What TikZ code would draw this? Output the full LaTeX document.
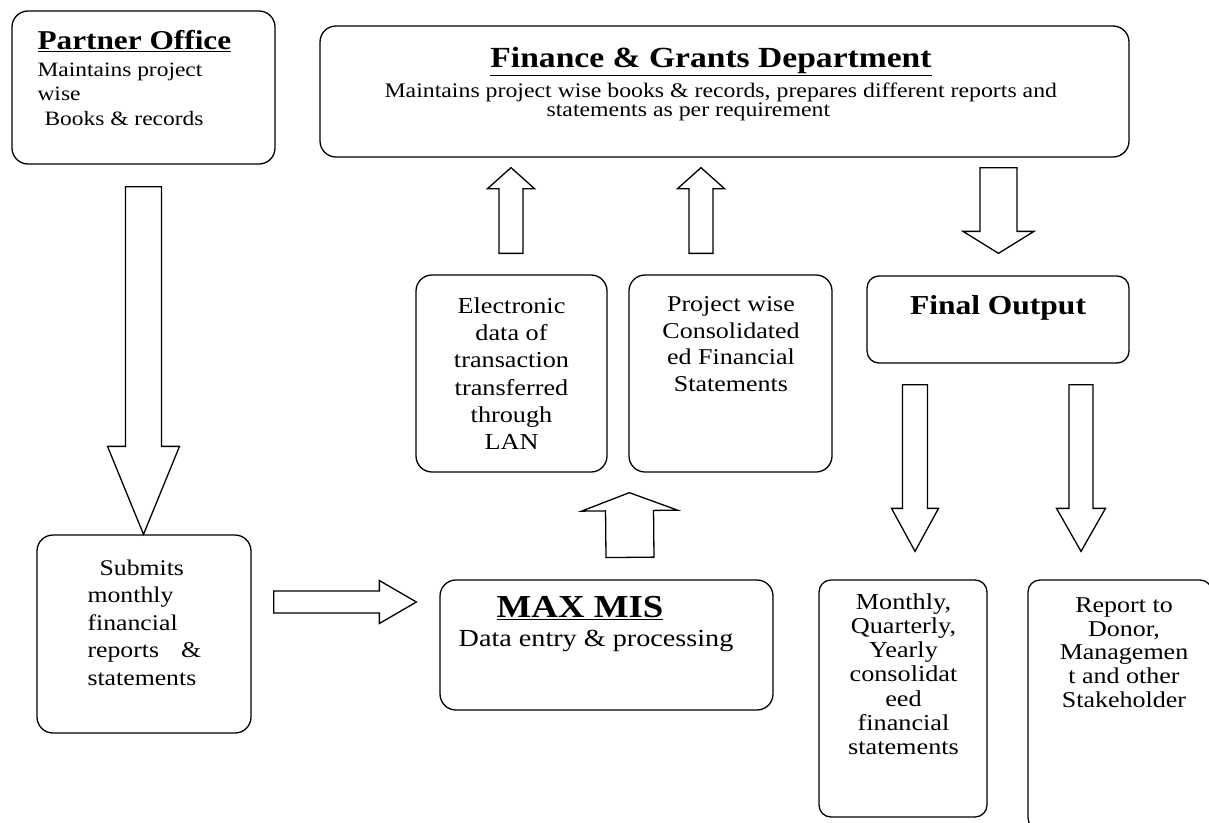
\documentclass[tikz,border=0pt]{standalone}
\usepackage{fontspec}
\setmainfont{Liberation Serif}[FakeStretch=1.15]
\usetikzlibrary{calc,positioning}

\tikzset{
  box/.style={draw, line width=1.3pt, rounded corners=16pt, inner sep=0pt},
  smallbox/.style={box, rounded corners=12pt},
  txt/.style={inner sep=0pt, align=center},
  blockarr/.style={draw, fill=white, line width=1.3pt, line join=miter},
}
\newcommand{\fs}[2]{\fontsize{#1}{#2}\selectfont}
% block arrow: start, tip, shaft half width, head half width, head length
\newcommand{\blockarrow}[5]{%
  \coordinate (ba-s) at (#1);
  \coordinate (ba-e) at (#2);
  \coordinate (ba-h) at ($(ba-e)!#5!(ba-s)$);
  \draw[blockarr] ($(ba-s)!#3!90:(ba-e)$) -- ($(ba-h)!#3!90:(ba-e)$)
    -- ($(ba-h)!#4!90:(ba-e)$) -- (ba-e) -- ($(ba-h)!#4!-90:(ba-e)$)
    -- ($(ba-h)!#3!-90:(ba-e)$) -- ($(ba-s)!#3!-90:(ba-e)$) -- cycle;
}

\begin{document}
\begin{tikzpicture}[x=1pt,y=-1pt]
\useasboundingbox (0,0) rectangle (1209,822);

% boxes
\node[box, minimum width=263pt, minimum height=153pt] (partner) at (143.5,87.5) {};
\node[box, minimum width=809pt, minimum height=131pt] (finance) at (724.5,91.5) {};
\node[box, minimum width=191pt, minimum height=197pt] (elec) at (511.5,373.5) {};
\node[box, minimum width=203pt, minimum height=197pt] (proj) at (730.5,373.5) {};
\node[smallbox, minimum width=262pt, minimum height=87pt] (finalout) at (998,319.5) {};
\node[box, minimum width=214pt, minimum height=198pt] (submits) at (144,634) {};
\node[box, minimum width=333pt, minimum height=130pt] (maxmis) at (606.5,645) {};
\node[smallbox, minimum width=168pt, minimum height=237pt] (monthly) at (903,698.5) {};
\node[smallbox, minimum width=184pt, minimum height=250pt] (report) at (1120,705) {};

% texts
\node[txt, anchor=base west, font=\fs{27.2}{32}\bfseries] (partner-title)
  at ($(partner.north west)+(26,39)$) {\underline{Partner Office}};
\node[txt, align=left, anchor=north west, font=\fs{20.4}{24.5}] (partner-body)
  at ($(partner.north west)+(26,52)$) {Maintains project\\wise\\\hspace*{7pt}Books \& records};

\node[txt, anchor=base, font=\fs{29.2}{34}\bfseries] (finance-title)
  at ($(finance.north)+(-13.5,42)$) {\underline{Finance \& Grants Department}};
\node[txt, align=left, anchor=north west, font=\fs{20.7}{19}] (finance-body)
  at ($(finance.north west)+(65,57)$) {Maintains project wise books \& records, prepares different reports and\\\hspace*{162pt}statements as per requirement};

\node[txt, anchor=north, font=\fs{22.8}{27.3}] (elec-txt) at ($(elec.north)+(0,23)$)
  {Electronic\\data of\\transaction\\transferred\\through\\LAN};
\node[txt, anchor=north, font=\fs{22.6}{26.7}] (proj-txt) at ($(proj.north)+(0.5,22)$)
  {Project wise\\Consolidated\\ed Financial\\Statements};

\node[txt, anchor=base, font=\fs{27.4}{32}\bfseries] (finalout-txt)
  at ($(finalout.north)+(0,39)$) {Final Output};

\node[txt, align=left, anchor=north west, font=\fs{22.4}{27.5}] (submits-txt)
  at ($(submits.north west)+(51,25)$)
  {\hspace*{12pt}Submits\\monthly\\financial\\reports\hspace{22pt}\&\\statements};

\node[txt, anchor=base, font=\fs{32}{36}\bfseries] (maxmis-title)
  at ($(maxmis.north)+(-26.5,38)$) {\underline{MAX MIS}};
\node[txt, anchor=base, font=\fs{24.5}{29}] (maxmis-body)
  at ($(maxmis.north)+(-10.5,67)$) {Data entry \& processing};

\node[txt, anchor=north, font=\fs{22.8}{24.2}] (monthly-txt) at ($(monthly.north)+(0.5,14)$)
  {Monthly,\\Quarterly,\\Yearly\\consolidat\\eed\\financial\\statements};
\node[txt, anchor=north, font=\fs{22.6}{23.8}] (report-txt) at ($(report.north)+(4,18)$)
  {Report to\\Donor,\\Managemen\\t and other\\Stakeholder};

% block arrows
\blockarrow{$(partner.south)+(0,22)$}{partner.south |- submits.north}{18pt}{36pt}{88pt}
\blockarrow{$(submits.east)+(22,-32)$}{$(maxmis.west)+(-23,-43)$}{11pt}{21.5pt}{37pt}
\blockarrow{$(maxmis.north)+(23.5,-22)$}{$(proj.south west)+(1,20)$}{24pt}{48pt}{18pt}
\blockarrow{$(elec.north)+(-0.5,-21)$}{$(elec.north |- finance.south)+(-0.5,10)$}{12pt}{23.5pt}{21pt}
\blockarrow{$(proj.north)+(-29.5,-21)$}{$(proj.north |- finance.south)+(-29.5,10)$}{12pt}{23.5pt}{21pt}
\blockarrow{$(finalout.north |- finance.south)+(0.5,10)$}{$(finalout.north)+(0.5,-22)$}{18.5pt}{35.5pt}{22pt}
\blockarrow{$(monthly.north |- finalout.south)+(12,21)$}{$(monthly.north)+(12,-28)$}{12.5pt}{23.5pt}{43pt}
\blockarrow{$(report.north |- finalout.south)+(-39,21)$}{$(report.north)+(-39,-28)$}{12pt}{24.5pt}{43pt}
\end{tikzpicture}
\end{document}
